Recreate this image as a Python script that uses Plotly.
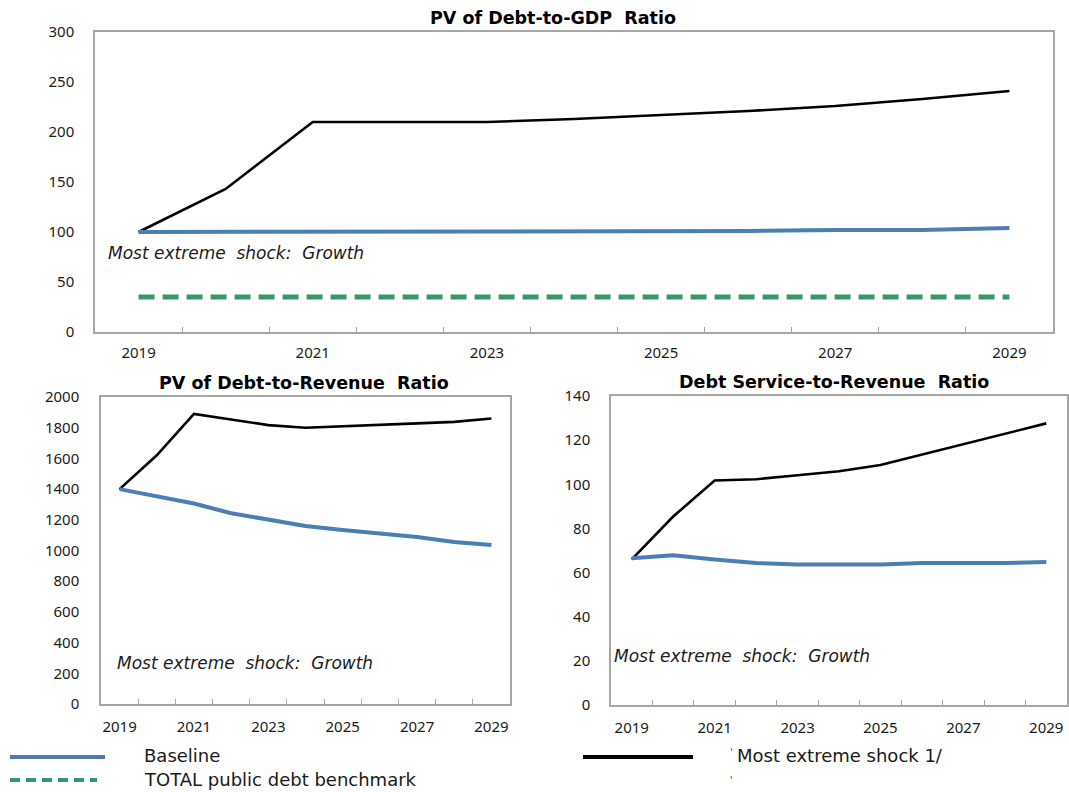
import plotly.graph_objects as go

years = list(range(2019, 2030))
label_years = [2019, 2021, 2023, 2025, 2027, 2029]

# PV of Debt-to-GDP Ratio
gdp_baseline = [100, 100, 100, 100, 100, 101, 101, 101, 102, 102, 104]
gdp_shock = [100, 143, 210, 210, 210, 213, 217, 221, 226, 233, 241]
gdp_benchmark = [35, 35, 35, 35, 35, 35, 35, 35, 35, 35, 35]

# PV of Debt-to-Revenue Ratio
rev_baseline = [1400, 1356, 1306, 1243, 1204, 1160, 1134, 1110, 1088, 1055, 1036]
rev_shock = [1400, 1620, 1890, 1852, 1817, 1800, 1808, 1817, 1828, 1838, 1860]

# Debt Service-to-Revenue Ratio
ds_baseline = [66.5, 67.8, 65.9, 64.3, 63.7, 63.7, 63.7, 64.3, 64.3, 64.3, 64.8]
ds_shock = [66, 85.4, 101.7, 102.3, 104.1, 105.9, 108.7, 113.5, 118.3, 122.8, 127.6]

W, H = 1069, 792
BLUE = "#4a7fb3"
GREEN = "#339966"
AX = "#a6a6a6"
TICKFONT = dict(family="Noto Sans, Open Sans, sans-serif", size=15, color="#1a1a1a")


def px_x(x0, x1):
    return [x0 / W, x1 / W]


def px_y(top, bottom):
    return [1 - bottom / H, 1 - top / H]


fig = go.Figure()


def add_lines(xa, ya, base, shock, bench=None):
    fig.add_trace(go.Scatter(x=years, y=shock, mode="lines", xaxis=xa, yaxis=ya,
                             line=dict(color="black", width=2.6), showlegend=False))
    fig.add_trace(go.Scatter(x=years, y=base, mode="lines", xaxis=xa, yaxis=ya,
                             line=dict(color=BLUE, width=4), showlegend=False))
    if bench is not None:
        fig.add_trace(go.Scatter(x=years, y=bench, mode="lines", xaxis=xa, yaxis=ya,
                                 line=dict(color=GREEN, width=5, dash="16px,8px"),
                                 showlegend=False))


add_lines("x", "y", gdp_baseline, gdp_shock, gdp_benchmark)
add_lines("x2", "y2", rev_baseline, rev_shock)
add_lines("x3", "y3", ds_baseline, ds_shock)


def xaxis(domain, anchor, standoff):
    return dict(domain=domain, anchor=anchor, range=[2018.5, 2029.5],
                tickmode="array", tickvals=label_years,
                ticktext=[str(y) for y in label_years], ticks="",
                ticklabelstandoff=standoff, automargin=False,
                minor=dict(tickmode="array", tickvals=[y + 0.5 for y in years[:-1]],
                           ticks="inside", ticklen=5, tickcolor=AX, tickwidth=1.2),
                showline=True, linecolor=AX, linewidth=1.5, mirror=True,
                showgrid=False, zeroline=False, tickfont=TICKFONT, fixedrange=True)


def yaxis(domain, anchor, rng, dtick, standoff):
    return dict(domain=domain, anchor=anchor, range=rng, dtick=dtick, tick0=0,
                ticks="", ticklabelstandoff=standoff, automargin=False,
                showline=True, linecolor=AX, linewidth=1.5, mirror=True,
                showgrid=False, zeroline=False, tickfont=TICKFONT, fixedrange=True)


fig.update_layout(
    width=W, height=H, autosize=False,
    margin=dict(l=0, r=0, t=0, b=0, pad=0, autoexpand=False),
    paper_bgcolor="white", plot_bgcolor="white",
    showlegend=False,
    xaxis=xaxis(px_x(95, 1053), "y", 6),
    yaxis=yaxis(px_y(32, 332), "x", [0, 300], 50, 16),
    xaxis2=xaxis(px_x(101, 510), "y2", 8),
    yaxis2=yaxis(px_y(397, 704), "x2", [0, 2000], 200, 17),
    xaxis3=xaxis(px_x(611, 1067), "y3", 8),
    yaxis3=yaxis(px_y(396, 705), "x3", [0, 140], 20, 16),
)

TITLEFONT = dict(family="DejaVu Sans, Verdana, sans-serif", size=17.5, color="black")
titles = [
    ("<b>PV of Debt-to-GDP  Ratio</b>", 553, 18),
    ("<b>PV of Debt-to-Revenue  Ratio</b>", 304, 383),
    ("<b>Debt Service-to-Revenue  Ratio</b>", 834, 382),
]
for text, cx, cy in titles:
    fig.add_annotation(text=text, xref="paper", yref="paper", x=cx / W, y=1 - cy / H,
                       xanchor="center", yanchor="middle", showarrow=False, font=TITLEFONT)

NOTEFONT = dict(family="DejaVu Sans, Verdana, sans-serif", size=17, color="#1a1a1a")
notes = [(106, 253), (115, 663), (612, 656)]
for lx, cy in notes:
    fig.add_annotation(text="<i>Most extreme  shock:  Growth</i>", xref="paper", yref="paper",
                       x=lx / W, y=1 - cy / H, xanchor="left", yanchor="middle",
                       showarrow=False, font=NOTEFONT)

# Legend (drawn in paper coordinates)
LEGFONT = dict(family="DejaVu Sans, Verdana, sans-serif", size=18, color="#1a1a1a")
fig.add_shape(type="line", xref="paper", yref="paper", x0=10 / W, x1=105 / W,
              y0=1 - 757 / H, y1=1 - 757 / H, line=dict(color=BLUE, width=4))
fig.add_shape(type="line", xref="paper", yref="paper", x0=10 / W, x1=97 / W,
              y0=1 - 780 / H, y1=1 - 780 / H, line=dict(color=GREEN, width=4, dash="10px,6px"))
fig.add_shape(type="line", xref="paper", yref="paper", x0=583 / W, x1=693 / W,
              y0=1 - 757 / H, y1=1 - 757 / H, line=dict(color="black", width=4))
for text, lx, cy in [("Baseline", 142, 755), ("TOTAL public debt benchmark", 142, 779),
                     ("Most extreme shock 1/", 735, 755)]:
    fig.add_annotation(text=text, xref="paper", yref="paper", x=lx / W, y=1 - cy / H,
                       xanchor="left", yanchor="middle", showarrow=False, font=LEGFONT)
# small stray marks next to the legend text in the reference
fig.add_annotation(text="'", xref="paper", yref="paper", x=731 / W, y=1 - 752 / H,
                   xanchor="center", yanchor="middle", showarrow=False,
                   font=dict(family="DejaVu Sans", size=10, color="#555555"))
fig.add_annotation(text="'", xref="paper", yref="paper", x=731 / W, y=1 - 780 / H,
                   xanchor="center", yanchor="middle", showarrow=False,
                   font=dict(family="DejaVu Sans", size=10, color="#ff0000"))

fig.write_html("out.html", config={"displayModeBar": False},
               post_script="document.body.style.margin='0';document.body.style.overflow='hidden';")
